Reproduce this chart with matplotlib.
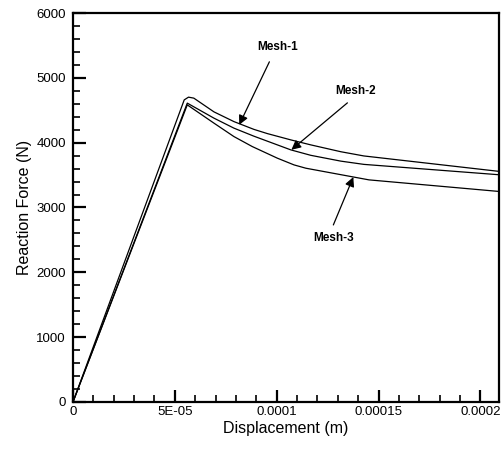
import matplotlib.pyplot as plt
from matplotlib.ticker import MultipleLocator

# Curvas fuerza-desplazamiento
mesh1_x = [0.0, 5.46e-05, 5.67e-05, 5.93e-05, 6.92e-05, 7.90e-05, 8.88e-05, 9.54e-05,
           1.069e-04, 1.167e-04, 1.315e-04, 1.428e-04, 2.1e-04]
mesh1_y = [0, 4660, 4702, 4687, 4475, 4325, 4205, 4140, 4043, 3966, 3860, 3795, 3554]

mesh2_x = [0.0, 5.61e-05, 6.92e-05, 7.90e-05, 8.88e-05, 1.069e-04, 1.167e-04, 1.315e-04,
           1.428e-04, 2.1e-04]
mesh2_y = [0, 4610, 4378, 4224, 4100, 3889, 3805, 3715, 3665, 3503]

mesh3_x = [0.0, 5.61e-05, 6.92e-05, 7.90e-05, 8.80e-05, 1.003e-04, 1.085e-04, 1.143e-04,
           1.453e-04, 2.1e-04]
mesh3_y = [0, 4583, 4301, 4094, 3940, 3761, 3657, 3606, 3426, 3245]

x_ticks = [0, 5e-05, 1e-04, 1.5e-04, 2e-04]
x_tick_labels = ["0", "5E-05", "0.0001", "0.00015", "0.0002"]

plt.rcParams['font.family'] = ['Liberation Sans', 'DejaVu Sans']

fig = plt.figure(figsize=(5.03, 4.53), dpi=100)
ax = fig.add_axes([0.1451, 0.1126, 0.8465, 0.8587])

for xs, ys in [(mesh1_x, mesh1_y), (mesh2_x, mesh2_y), (mesh3_x, mesh3_y)]:
    ax.plot(xs, ys, color='black', lw=0.9)

ax.set_xlim(0, 2.09e-04)
ax.set_ylim(0, 6000)

ax.set_xticks(x_ticks)
ax.set_xticklabels(x_tick_labels)
ax.xaxis.set_minor_locator(MultipleLocator(1e-05))
ax.yaxis.set_major_locator(MultipleLocator(1000))
ax.yaxis.set_minor_locator(MultipleLocator(200))

ax.tick_params(which='both', direction='in', top=False, right=False, labelsize=9.5)
ax.tick_params(which='major', length=9, width=1.6)
ax.tick_params(which='minor', length=5, width=1.2)
ax.tick_params(axis='y', pad=5)
ax.tick_params(axis='x', pad=3)

for s in ax.spines.values():
    s.set_linewidth(1.6)

ax.set_xlabel("Displacement (m)", fontsize=11.5, labelpad=2)
ax.set_ylabel("Reaction Force (N)", fontsize=11.5, labelpad=3)

# Flechas y etiquetas de cada malla
arrow = dict(arrowstyle='-|>', color='black', lw=0.9, mutation_scale=14, shrinkA=0, shrinkB=0)
ax.annotate("", xy=(8.16e-05, 4275), xytext=(9.64e-05, 5247), arrowprops=arrow)
ax.text(1.003e-04, 5478, "Mesh-1", fontsize=8.5, fontweight='bold', ha='center', va='center')
ax.annotate("", xy=(1.072e-04, 3890), xytext=(1.347e-04, 4614), arrowprops=arrow)
ax.text(1.386e-04, 4799, "Mesh-2", fontsize=8.5, fontweight='bold', ha='center', va='center')
ax.annotate("", xy=(1.376e-04, 3470), xytext=(1.278e-04, 2731), arrowprops=arrow)
ax.text(1.278e-04, 2531, "Mesh-3", fontsize=8.5, fontweight='bold', ha='center', va='center')

fig.savefig("out.png", dpi=100)
